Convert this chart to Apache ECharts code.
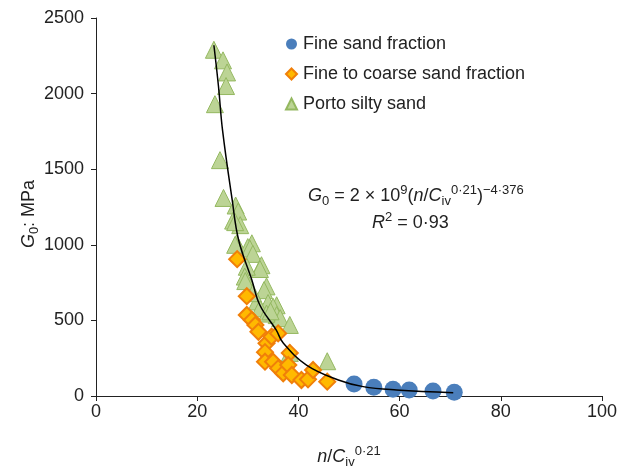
<!DOCTYPE html>
<html>
<head>
<meta charset="utf-8">
<script src="https://cdn.jsdelivr.net/npm/echarts@6/dist/echarts.min.js"></script>
<style>
  html, body { margin: 0; padding: 0; background: #fff; }
  #chart { width: 621px; height: 470px; }
</style>
</head>
<body>
<div id="chart"></div>
<script>
// values: [n/Civ^0.21, G0 (MPa)]
var fineSand = [[51.0, 79], [54.9, 58], [58.7, 45], [61.9, 40], [66.6, 33], [70.8, 25]]

var fineToCoarse = [
  [27.9, 905], [29.8, 660], [29.8, 536], [30.8, 503], [31.5, 470], [32.1, 425],
  [33.7, 349], [34.7, 392], [36.0, 414], [33.4, 290], [33.4, 227], [35.0, 227],
  [36.0, 183], [37.0, 150], [38.3, 285], [38.0, 205], [38.7, 139], [40.6, 106],
  [41.9, 110], [42.9, 172], [45.7, 95]
]

var portoSilty = [
  [23.3, 2290], [25.1, 2220], [25.9, 2140], [25.7, 2050], [23.5, 1930], [24.5, 1560],
  [25.2, 1310], [27.6, 1260], [28.1, 1220], [27.1, 1160], [28.5, 1130], [27.5, 1150],
  [27.8, 1010], [30.8, 1010], [30.0, 985], [27.5, 1000], [30.4, 975], [31.0, 940],
  [32.7, 865], [32.4, 840], [29.8, 855], [29.4, 790], [29.5, 760], [33.7, 725],
  [33.2, 700], [31.8, 625], [34.0, 615], [35.7, 600], [32.4, 580], [35.0, 590],
  [35.7, 535], [36.4, 515], [33.7, 545], [38.3, 470], [38.3, 285], [45.7, 230],
  [31.0, 680], [34.5, 560]
]

// fitted curve
var fitCurve = [
  [23.3, 2320], [24.2, 2050], [25.0, 1760], [26.9, 1300], [28.2, 1030], [30.8, 767],
  [32.4, 600], [35.6, 437], [37.0, 350], [41.6, 205], [47.9, 106], [52.8, 62],
  [59.4, 40], [70.6, 22]
]

var xTicks = [0, 20, 40, 60, 80, 100]
var yTicks = [0, 500, 1000, 1500, 2000, 2500]

var font = 'Liberation Sans, Arial, sans-serif'
var fs = 18

var myChart = echarts.init(document.getElementById('chart'))
myChart.setOption({
  animation: false,
  textStyle: { fontFamily: font },
  grid: { left: 96, right: 19, top: 18, bottom: 74, outerBoundsMode: 'none', containLabel: false },
  legend: {
    orient: 'vertical',
    left: 280,
    top: 30,
    itemGap: 12,
    itemWidth: 11,
    itemHeight: 11,
    textStyle: { fontSize: fs, color: '#222', fontFamily: font, padding: [0, 0, 0, 1] },
    data: [
      { name: 'Fine sand fraction', icon: 'circle' },
      { name: 'Fine to coarse sand fraction', icon: 'diamond' },
      { name: 'Porto silty sand', icon: 'triangle' }
    ]
  },
  xAxis: {
    type: 'value',
    min: xTicks[0],
    max: xTicks[xTicks.length - 1],
    interval: 20,
    splitLine: { show: false },
    axisLine: { lineStyle: { color: '#222', width: 1 } },
    axisTick: { show: true, length: 5, lineStyle: { color: '#222' } },
    axisLabel: { fontSize: fs, color: '#222', margin: 7 },
    name: '{i|n}{n|/}{i|C}{sub|iv}{sup|0·21}',
    nameLocation: 'middle',
    nameGap: 49,
    nameTextStyle: {
      rich: {
        i: { fontSize: fs, fontStyle: 'italic', color: '#222', fontFamily: font },
        n: { fontSize: fs, color: '#222', fontFamily: font },
        sub: { fontSize: 13, color: '#222', padding: [11, 0, 0, 0], fontFamily: font },
        sup: { fontSize: 13, color: '#222', padding: [0, 0, 11, 0], fontFamily: font }
      }
    }
  },
  yAxis: {
    type: 'value',
    min: yTicks[0],
    max: yTicks[yTicks.length - 1],
    interval: 500,
    splitLine: { show: false },
    axisLine: { show: true, lineStyle: { color: '#222', width: 1 } },
    axisTick: { show: true, length: 5, lineStyle: { color: '#222' } },
    axisLabel: { fontSize: fs, color: '#222', margin: 12, formatter: function (v) { return String(v) } },
    name: '{i|G}{sub|0}{n|: MPa}',
    nameLocation: 'middle',
    nameGap: 55,
    nameMoveOverlap: false,
    nameTextStyle: {
      padding: [0, 14, 0, 0],
      rich: {
        i: { fontSize: fs, fontStyle: 'italic', color: '#222', fontFamily: font },
        n: { fontSize: fs, color: '#222', fontFamily: font },
        sub: { fontSize: 13, color: '#222', padding: [11, 0, 0, 0], fontFamily: font }
      }
    }
  },
  graphic: [
    {
      type: 'text',
      left: 308,
      top: 184,
      style: {
        text: '{i|G}{sub|0}{n| = 2 × 10}{sup|9}{n|(}{i|n}{n|/}{i|C}{sub|iv}{sup|0·21}{n|)}{sup|−4·376}',
        rich: {
          i: { fontSize: fs, fontStyle: 'italic', fill: '#222', fontFamily: font },
          n: { fontSize: fs, fill: '#222', fontFamily: font },
          sub: { fontSize: 13, fill: '#222', padding: [11, 0, 0, 0], fontFamily: font },
          sup: { fontSize: 13, fill: '#222', padding: [0, 0, 11, 0], fontFamily: font }
        }
      }
    },
    {
      type: 'text',
      left: 372,
      top: 211,
      style: {
        text: '{i|R}{sup|2}{n| = 0·93}',
        rich: {
          i: { fontSize: fs, fontStyle: 'italic', fill: '#222', fontFamily: font },
          n: { fontSize: fs, fill: '#222', fontFamily: font },
          sup: { fontSize: 13, fill: '#222', padding: [0, 0, 11, 0], fontFamily: font }
        }
      }
    }
  ],
  series: [
    {
      name: 'Porto silty sand',
      type: 'scatter',
      symbol: 'triangle',
      symbolSize: 17,
      data: portoSilty,
      itemStyle: { color: '#bcd495', borderColor: '#94b860', borderWidth: 1, opacity: 1 },
      z: 2
    },
    {
      name: 'Fine to coarse sand fraction',
      type: 'scatter',
      symbol: 'diamond',
      symbolSize: 16,
      data: fineToCoarse,
      itemStyle: { color: '#ffb900', borderColor: '#f07f09', borderWidth: 2, opacity: 1 },
      z: 3
    },
    {
      name: 'Fine sand fraction',
      type: 'scatter',
      symbol: 'circle',
      symbolSize: 17,
      data: fineSand,
      itemStyle: { color: '#4a7ebb', opacity: 1 },
      z: 3
    },
    {
      name: 'fit',
      type: 'line',
      data: fitCurve,
      smooth: 0.4,
      showSymbol: false,
      symbol: 'none',
      lineStyle: { color: '#000', width: 1.5 },
      z: 5
    }
  ]
})
</script>
</body>
</html>
